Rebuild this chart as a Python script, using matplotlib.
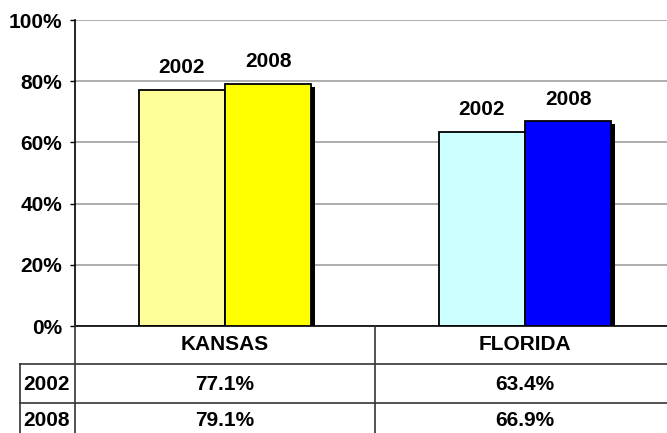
import matplotlib
matplotlib.use("Agg")
import matplotlib.pyplot as plt
import matplotlib.patheffects as pe
from matplotlib.lines import Line2D
from matplotlib.transforms import blended_transform_factory

categories = ["KANSAS", "FLORIDA"]
years = ["2002", "2008"]
values_2002 = [77.1, 63.4]
values_2008 = [79.1, 66.9]
colors_2002 = ["#FFFF99", "#CCFFFF"]
colors_2008 = ["#FFFF00", "#0000FF"]
yticks = [0, 20, 40, 60, 80, 100]

W, H = 667, 433
fig = plt.figure(figsize=(W / 100, H / 100), dpi=100)
plt.rcParams['font.family'] = ['Liberation Sans', 'DejaVu Sans']
FS = 15

# axes spans pixel x 75..675, y 20..326
ax = fig.add_axes([75 / W, (H - 326) / H, 600 / W, 306 / H])
ax.set_xlim(-0.5, 1.5)
ax.set_ylim(0, 100)

x = list(range(len(categories)))
bw = 0.287
off = 0.1435
ax.set_axisbelow(True)
ax.yaxis.grid(True, color="#a0a0a0", linewidth=1.2)
b1 = ax.bar([xi - off for xi in x], values_2002, width=bw, color=colors_2002,
            edgecolor="black", linewidth=1.3, zorder=2)
b2 = ax.bar([xi + off for xi in x], values_2008, width=bw, color=colors_2008,
            edgecolor="black", linewidth=1.3, zorder=3,
            path_effects=[pe.SimplePatchShadow(offset=(3, -2.2), shadow_rgbFace="black", alpha=1.0),
                          pe.Normal()])

for bars, yr in ((b1, years[0]), (b2, years[1])):
    for rect in bars:
        ax.annotate(yr, (rect.get_x() + rect.get_width() / 2, rect.get_height()),
                    xytext=(0, 16), textcoords="offset points", ha="center", va="center",
                    fontsize=FS, fontweight="bold")

ax.set_yticks(yticks)
ax.set_yticklabels([f"{t}%" for t in yticks], fontsize=FS, fontweight="bold")
ax.tick_params(axis="y", length=3.6, width=1, pad=5.5, color="black")
ax.set_xticks([])
for s in ["top", "right"]:
    ax.spines[s].set_visible(False)
ax.spines["left"].set_linewidth(1.2)
ax.spines["bottom"].set_linewidth(1.2)

# table below the axes, drawn in figure pixel coordinates
def fx(px):
    return px / W

def fy(py):
    return 1 - py / H

def line(x0, y0, x1, y1):
    fig.add_artist(Line2D([fx(x0), fx(x1)], [fy(y0), fy(y1)], color="#333333", linewidth=1.2))

line(75, 326, 75, 433)
line(375, 326, 375, 433)
line(20, 364, 667, 364)
line(20, 403, 667, 403)
line(20, 364, 20, 433)

tr = blended_transform_factory(ax.transData, fig.transFigure)
for xi, cat in zip(x, categories):
    fig.text(xi, fy(345), cat, transform=tr, ha="center", va="center",
             fontsize=FS, fontweight="bold")
rows = [values_2002, values_2008]
row_y = [384, 421]
for yr, vals, ry in zip(years, rows, row_y):
    fig.text(fx(47), fy(ry), yr, ha="center", va="center", fontsize=FS, fontweight="bold")
    for xi, v in zip(x, vals):
        fig.text(xi, fy(ry), f"{v:.1f}%", transform=tr, ha="center", va="center",
                 fontsize=FS, fontweight="bold")

fig.savefig("out.png", dpi=100)
